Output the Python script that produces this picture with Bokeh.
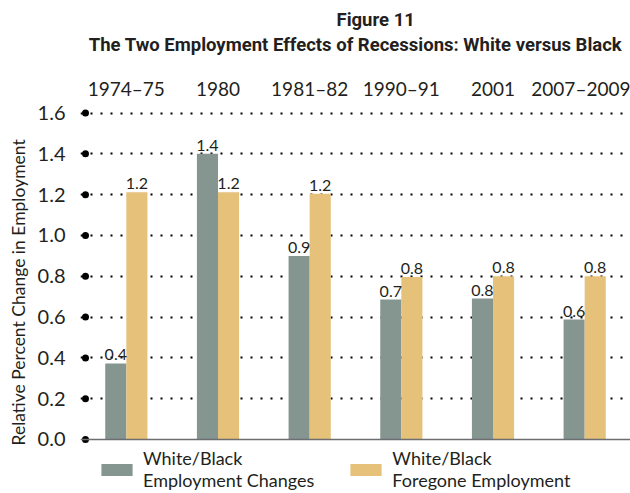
from bokeh.plotting import figure
from bokeh.models import (Range1d, LinearAxis, FixedTicker, Span, Title, Legend, LegendItem)
from bokeh.core.properties import value
from bokeh.embed import file_html
from bokeh.resources import INLINE

# ---- data ----
periods = ["1974–75", "1980", "1981–82", "1990–91", "2001", "2007–2009"]
emp_changes = [0.373, 1.400, 0.899, 0.686, 0.691, 0.588]
foregone = [1.212, 1.212, 1.204, 0.796, 0.800, 0.800]
emp_labels = ["0.4", "1.4", "0.9", "0.7", "0.8", "0.6"]
fore_labels = ["1.2", "1.2", "1.2", "0.8", "0.8", "0.8"]
y_ticks = [0.0, 0.2, 0.4, 0.6, 0.8, 1.0, 1.2, 1.4, 1.6]
y_tick_labels = ["0.0", "0.2", "0.4", "0.6", "0.8", "1.0", "1.2", "1.4", "1.6"]

GRAY = "#85958f"
GOLD = "#e5c17a"
TXT = "#231f20"
FONT = "Lato"

idx = list(range(len(periods)))
x_start, x_end = -0.5, 5.5
y_start, y_end = -0.2647, 1.637

p = figure(width=630, height=493, output_backend="svg", toolbar_location=None,
           x_range=Range1d(x_start, x_end), y_range=Range1d(y_start, y_end),
           min_border_left=79, min_border_right=0, min_border_top=105,
           min_border_bottom=0, x_axis_location=None)
p.outline_line_color = None
p.background_fill_color = "white"
p.border_fill_color = "white"
p.xgrid.grid_line_color = None

# y grid: dotted
p.ygrid.ticker = FixedTicker(ticks=y_ticks[1:])
p.ygrid.grid_line_color = "black"
p.ygrid.grid_line_width = 2
p.ygrid.grid_line_dash = "2 8"

# left axis
p.yaxis.ticker = FixedTicker(ticks=y_ticks)
p.yaxis.major_label_overrides = {t: l for t, l in zip(y_ticks, y_tick_labels)}
p.yaxis.axis_line_color = None
p.yaxis.major_tick_line_color = None
p.yaxis.minor_tick_line_color = None
p.yaxis.major_label_standoff = 9
p.yaxis.major_label_text_font = FONT
p.yaxis.major_label_text_font_size = "20px"
p.yaxis.major_label_text_color = TXT

# y-axis title as a side title (so it can be placed on the 0-1.6 band)
p.add_layout(Title(text="Relative Percent Change in Employment", align="left", offset=48,
                   text_font=FONT, text_font_style="normal", text_font_size="17.5px",
                   text_color=TXT, standoff=11), "left")

# top axis with category labels; its axis label carries the title's second line
top = LinearAxis(ticker=FixedTicker(ticks=idx),
                 major_label_overrides={i: s for i, s in zip(idx, periods)})
top.axis_line_color = None
top.major_tick_line_color = None
top.minor_tick_line_color = None
top.major_label_standoff = 0
top.major_label_text_font = FONT
top.major_label_text_font_size = "19px"
top.major_label_text_color = TXT
top.axis_label = "The Two Employment Effects of Recessions: White versus Black"
top.axis_label_text_font = "Roboto"
top.axis_label_text_font_style = "bold"
top.axis_label_text_font_size = "18.5px"
top.axis_label_text_color = TXT
top.axis_label_standoff = 18
p.add_layout(top, "above")

# first title line
p.add_layout(Title(text="Figure 11", align="left", offset=256, text_font="Roboto",
                   text_font_style="bold", text_font_size="18.5px", text_color=TXT,
                   standoff=0), "above")

# bars
off = 0.115
bw = 0.23
x1 = [i - off for i in idx]
x2 = [i + off for i in idx]
r1 = p.vbar(x=x1, top=emp_changes, bottom=0, width=bw, fill_color=GRAY, line_color=None)
r2 = p.vbar(x=x2, top=foregone, bottom=0, width=bw, fill_color=GOLD, line_color=None)

# value labels
p.text(x=x1, y=emp_changes, text=emp_labels, text_align="center", text_baseline="bottom",
       y_offset=-3, text_font=value(FONT), text_font_size="16px", text_color=TXT)
p.text(x=x2, y=foregone, text=fore_labels, text_align="center", text_baseline="bottom",
       y_offset=-3, text_font=value(FONT), text_font_size="16px", text_color=TXT)

# baseline
p.add_layout(Span(location=0, dimension="width", line_color="#6d6e71", line_width=1.5))

# big tick dots
dot_x = [x_start + 5 / 91.8] * len(y_ticks)
p.scatter(x=dot_x, y=y_ticks, size=7, marker="circle", fill_color="black", line_color=None)

# legend below the bars
legend = Legend(items=[LegendItem(label="White/Black\nEmployment Changes", renderers=[r1]),
                       LegendItem(label="White/Black\nForegone Employment", renderers=[r2])],
                location=(17, 2), orientation="horizontal",
                glyph_width=39, glyph_height=15, label_standoff=7,
                padding=0, margin=0, spacing=32,
                border_line_color=None, background_fill_alpha=0,
                label_text_font=FONT, label_text_font_size="18px",
                label_text_color=TXT)
p.add_layout(legend, "center")

open("out.html", "w").write(file_html(p, INLINE))
